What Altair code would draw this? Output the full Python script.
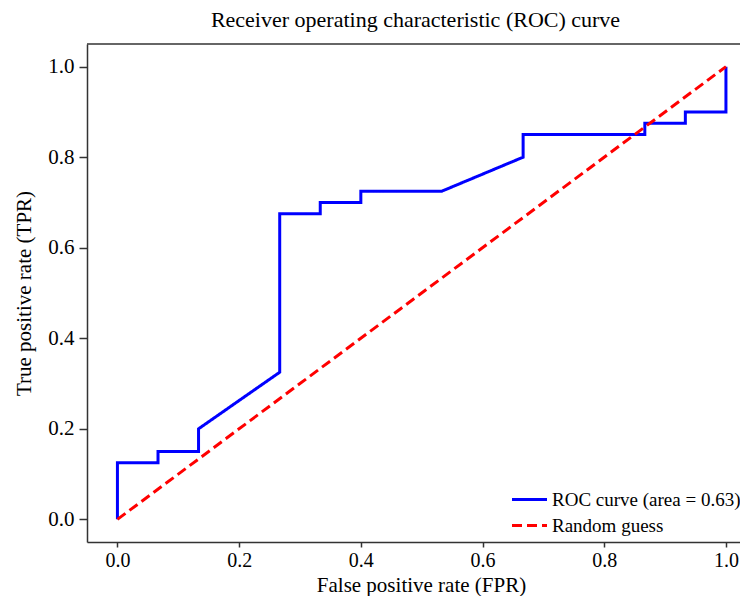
import altair as alt
import pandas as pd

# ROC curve points
fpr = [0.0, 0.0, 0.0667, 0.0667, 0.1333, 0.1333, 0.2667, 0.2667, 0.3333, 0.3333,
       0.4, 0.4, 0.5333, 0.6667, 0.6667, 0.8667, 0.8667, 0.9333, 0.9333, 1.0, 1.0]
tpr = [0.0, 0.125, 0.125, 0.15, 0.15, 0.2, 0.325, 0.675, 0.675, 0.7,
       0.7, 0.725, 0.725, 0.8, 0.85, 0.85, 0.875, 0.875, 0.9, 0.9, 1.0]
guess_fpr = [0.0, 1.0]
guess_tpr = [0.0, 1.0]
series_names = ["ROC curve (area = 0.63)", "Random guess"]
series_colors = ["#0000ff", "#ff0000"]
x_ticks = [0.0, 0.2, 0.4, 0.6, 0.8, 1.0]
y_ticks = [0.0, 0.2, 0.4, 0.6, 0.8, 1.0]

rows = []
for i, (a, b) in enumerate(zip(fpr, tpr)):
    rows.append({"fpr": a, "tpr": b, "series": series_names[0], "order": i})
for i, (a, b) in enumerate(zip(guess_fpr, guess_tpr)):
    rows.append({"fpr": a, "tpr": b, "series": series_names[1], "order": i})
df = pd.DataFrame(rows)

W, H = 653, 498
FONT = "Liberation Serif"

legend = alt.Legend(
    title=None, orient="none", legendX=427, legendY=440,
    symbolType="M-1.25,0H1.25", symbolSize=784, symbolStrokeWidth=3,
    labelFontSize=19, labelFont=FONT, labelColor="black", labelOffset=7,
    labelLimit=0, rowPadding=-2, padding=0,
)

lines = alt.Chart(df).mark_line(strokeWidth=3, clip=True).encode(
    x=alt.X("fpr:Q",
            scale=alt.Scale(domain=[-0.05, 1.0231], nice=False, zero=False),
            axis=alt.Axis(values=x_ticks, format=".1f", title="False positive rate (FPR)",
                          tickSize=5, labelPadding=3, labelFontSize=20,
                          titleY=49, titleBaseline="alphabetic",
                          titleX=334, titleAlign="center", grid=False)),
    y=alt.Y("tpr:Q",
            scale=alt.Scale(domain=[-0.05, 1.05], nice=False, zero=False),
            axis=alt.Axis(values=y_ticks, format=".1f", title="True positive rate (TPR)",
                          tickSize=8, labelPadding=5, titleX=-63, titleY=H / 2,
                          titleAngle=270, titleBaseline="middle", titleAlign="center",
                          grid=False)),
    color=alt.Color("series:N", scale=alt.Scale(domain=series_names, range=series_colors),
                    legend=legend),
    strokeDash=alt.StrokeDash("series:N",
                              scale=alt.Scale(domain=series_names, range=[[1, 0], [10, 5]]),
                              legend=legend),
    order="order:Q",
)

top = alt.Chart(pd.DataFrame({"k": [0]})).mark_rule(color="#333333", strokeWidth=1.5).encode(
    x=alt.value(0), x2=alt.value(W), y=alt.value(0)
)

chart = alt.layer(top, lines).properties(
    width=W, height=H,
    title=alt.Title("Receiver operating characteristic (ROC) curve", fontSize=22, font=FONT,
                    fontWeight="normal", color="black", anchor="middle", frame="group",
                    dx=2, offset=11),
    autosize=alt.AutoSizeParams(type="none"),
    padding={"left": 79, "top": 36, "right": 0, "bottom": 54},
).configure_view(stroke=None).configure_axis(
    labelFont=FONT, labelFontSize=21, labelColor="black",
    titleFont=FONT, titleFontSize=21, titleFontWeight="normal", titleColor="black",
    domainColor="#333333", domainWidth=1.5, tickColor="#333333", tickWidth=1.5,
)

chart.save("out.html", embed_options={"renderer": "svg", "actions": False})
